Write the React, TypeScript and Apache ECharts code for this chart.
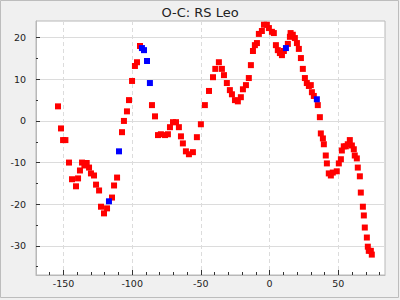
import React, { useEffect, useRef } from "react";
import * as echarts from "echarts";

const redX = [
  -154.0, -151.8, -150.3, -148.6, -146.0, -143.8, -140.9, -139.4, -138.0, -136.5,
  -134.8, -133.1, -131.4, -130.0, -127.8, -126.3, -124.1, -122.7, -120.5, -118.3,
  -114.7, -113.2, -111.0, -107.4, -106.0, -103.8, -102.3, -100.1, -98.0, -96.5,
  -94.3, -85.6, -83.4, -81.2, -79.1, -76.1, -74.0, -72.5, -70.3, -68.1,
  -66.0, -64.5, -63.1, -60.9, -58.7, -55.8, -52.9, -50.0, -47.1, -44.1,
  -41.2, -39.5, -36.9, -34.7, -33.2, -31.1, -28.9, -27.4, -25.2, -23.1,
  -20.9, -19.4, -17.2, -15.1, -13.6, -12.1, -10.7, -9.2, -7.8, -5.6,
  -4.1, -2.0, -0.5, 1.7, 3.1, 4.6, 6.0, 7.5, 9.0, 10.4,
  13.3, 14.8, 15.3, 16.9, 18.4, 19.9, 21.3, 22.8, 24.2, 25.7,
  27.1, 28.6, 30.0, 30.8, 32.2, 35.1, 36.6, 37.3, 38.8, 39.5,
  40.9, 41.7, 43.1, 44.6, 46.0, 48.9, 50.4, 51.9, 52.6, 54.0,
  55.5, 56.9, 58.4, 59.9, 61.3, 62.0, 63.5, 64.2, 65.7, 66.4,
  67.9, 68.6, 69.3, 70.8, 71.5, 72.2, 73.7, 74.4,
];
const redY = [
  3.5, -1.8, -4.6, -4.6, -10.0, -14.0, -15.7, -13.8, -11.9, -10.0,
  -10.7, -10.1, -11.2, -12.6, -13.1, -15.3, -16.7, -20.6, -22.2, -21.0,
  -18.4, -15.5, -13.6, -2.7, 0.0, 2.3, 5.0, 9.6, 13.2, 14.1,
  18.0, 3.8, 1.1, -3.4, -3.2, -3.4, -3.2, -1.5, -0.3, -0.3,
  -1.5, -3.7, -5.4, -7.3, -8.0, -7.5, -3.9, -0.8, 3.8, 7.2,
  10.5, 12.5, 14.1, 12.5, 11.0, 9.1, 7.4, 6.4, 5.0, 4.7,
  5.7, 7.6, 8.6, 10.3, 13.4, 16.8, 18.2, 18.7, 20.9, 21.6,
  23.1, 23.1, 22.3, 21.4, 21.1, 18.2, 17.0, 16.3, 15.8, 16.8,
  18.5, 20.2, 21.1, 20.7, 19.9, 18.7, 17.3, 15.1, 12.5, 10.3,
  9.1, 8.4, 8.6, 6.9, 6.0, 3.8, 0.9, -3.0, -4.2, -5.6,
  -8.3, -10.2, -12.6, -13.1, -12.4, -12.1, -10.2, -9.2, -7.1, -6.1,
  -6.1, -5.6, -4.6, -5.9, -6.8, -8.3, -9.0, -11.2, -13.3, -17.2,
  -20.6, -22.7, -25.6, -28.0, -30.2, -31.2, -31.2, -32.1,
];
const blueX = [-116.9, -109.6, -92.9, -91.4, -89.2, -87.1, 11.9, 34.4];
const blueY = [-19.3, -7.3, 17.5, 17.0, 14.4, 9.1, 17.5, 5.2];

const xMajor = [-150, -100, -50, 0, 50];
const xMinor = [-160, -140, -130, -120, -110, -90, -80, -70, -60, -40, -30, -20, -10, 10, 20, 30, 40, 60, 70, 80];
const yMajor = [-30, -20, -10, 0, 10, 20];
const yMinor = [-35, -25, -15, -5, 5, 15];

const FONT = "DejaVu Sans";

export default function App() {
  const ref = useRef<HTMLDivElement>(null);
  useEffect(() => {
    if (!ref.current) return;
    const chart = echarts.init(ref.current, null, { renderer: "svg" });
    const red = redX.map((x, i) => [x, redY[i]]);
    const blue = blueX.map((x, i) => [x, blueY[i]]);
    const tickColor = "#333";
    const line = { show: true, onZero: false, lineStyle: { color: "#b8b8b8" } };
    chart.setOption({
      animation: false,
      backgroundColor: "#f0f0f0",
      title: {
        text: "O-C: RS Leo",
        left: "center",
        top: 1,
        textStyle: { fontFamily: FONT, fontSize: 13, fontWeight: "normal", color: "#222" },
      },
      grid: {
        left: 36,
        right: 15,
        top: 21,
        bottom: 25,
        show: true,
        backgroundColor: "#fff",
        borderColor: "#b8b8b8",
        borderWidth: 1,
      },
      xAxis: [
        {
          type: "value",
          min: -170,
          max: 84,
          position: "bottom",
          axisLine: line,
          axisTick: { show: true, inside: true, length: 5, customValues: xMajor, lineStyle: { color: tickColor } },
          axisLabel: { customValues: xMajor, fontFamily: FONT, fontSize: 9.5, color: "#222", margin: 3 },
          splitLine: { show: true, lineStyle: { color: "#dcdcdc", type: [4, 3] } },
        },
        {
          type: "value",
          min: -170,
          max: 84,
          position: "bottom",
          axisLine: { show: false, onZero: false },
          axisTick: { show: true, inside: true, length: 3, customValues: xMinor, lineStyle: { color: tickColor } },
          axisLabel: { show: false },
          splitLine: { show: false },
        },
      ],
      yAxis: [
        {
          type: "value",
          min: -37,
          max: 24,
          position: "left",
          axisLine: line,
          axisTick: { show: true, inside: true, length: 4, customValues: yMajor, lineStyle: { color: tickColor } },
          axisLabel: { customValues: yMajor, fontFamily: FONT, fontSize: 9.5, color: "#222", margin: 10 },
          splitLine: { show: true, lineStyle: { color: "#dcdcdc", type: "solid" } },
        },
        {
          type: "value",
          min: -37,
          max: 24,
          position: "left",
          axisLine: { show: false, onZero: false },
          axisTick: { show: true, inside: true, length: 2, customValues: yMinor, lineStyle: { color: tickColor } },
          axisLabel: { show: false },
          splitLine: { show: false },
        },
      ],
      graphic: [
        {
          type: "rect",
          shape: { x: 0.5, y: 0.5, width: 398, height: 297 },
          style: { fill: "none", stroke: "#bdbdbd", lineWidth: 1 },
          silent: true,
        },
      ],
      series: [
        {
          type: "scatter",
          xAxisIndex: 0,
          yAxisIndex: 0,
          data: red,
          symbol: "rect",
          symbolSize: 6,
          itemStyle: { color: "#ff0000", opacity: 1 },
        },
        {
          type: "scatter",
          xAxisIndex: 0,
          yAxisIndex: 0,
          data: blue,
          symbol: "rect",
          symbolSize: 6,
          itemStyle: { color: "#0000ff", opacity: 1 },
        },
      ],
    });
    return () => chart.dispose();
  }, []);
  return (
    <div
      ref={ref}
      style={{ position: "absolute", left: 0, top: 0, width: 400, height: 300 }}
    />
  );
}
